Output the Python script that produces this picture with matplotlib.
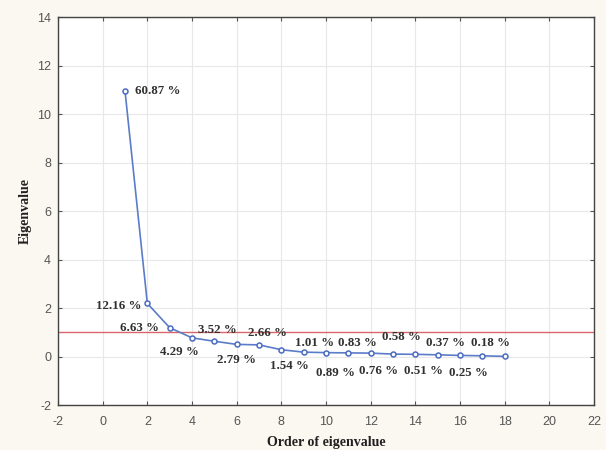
import numpy as np
from matplotlib import pyplot as plt

plt.rcParams['axes.unicode_minus'] = False

# scree plot data
order = list(range(1, 19))
eigenvalues = [10.96, 2.19, 1.19, 0.77, 0.63, 0.50, 0.48, 0.28, 0.18,
               0.16, 0.15, 0.14, 0.10, 0.09, 0.07, 0.045, 0.03, 0.005]
pct_labels = ["60.87 %", "12.16 %", "6.63 %", "4.29 %", "3.52 %", "2.79 %",
              "2.66 %", "1.54 %", "1.01 %", "0.89 %", "0.83 %", "0.76 %",
              "0.58 %", "0.51 %", "0.37 %", "0.25 %", "0.18 %"]
kaiser = 1.0

# label offsets (points) and alignment relative to each point
offsets = [(7, 0, 'left'), (-4, -2, 'right'), (-8, 0, 'right'),
           (-9, -10, 'center'), (2, 8, 'center'), (0, -11.5, 'center'),
           (6, 8.5, 'center'), (5.5, -11.5, 'center'), (8, 6.5, 'center'),
           (7, -14.5, 'center'), (6.5, 7, 'center'), (6, -13, 'center'),
           (6, 12, 'center'), (6, -12, 'center'), (6, 8.5, 'center'),
           (6, -13, 'center'), (6, 9, 'center')]

fig = plt.figure(figsize=(6.06, 4.5), dpi=100, facecolor='#fbf8f1')
ax = fig.add_axes([0.0957, 0.1, 0.8845, 0.862])
ax.set_facecolor('white')

ax.axhline(kaiser, color='#d9666a', lw=1.0, zorder=2)
ax.plot(order, eigenvalues, '-o', color='#5b7cc8', lw=1.2, ms=3.6,
        mfc='white', mec='#4a6cc0', mew=1.1, zorder=3)

for i, txt in enumerate(pct_labels):
    dx, dy, ha = offsets[i]
    ax.annotate(txt, (order[i], eigenvalues[i]), xytext=(dx, dy),
                textcoords='offset points', ha=ha, va='center',
                fontsize=9.3, fontweight='bold', family='Liberation Serif',
                color='#303030', zorder=4)

ax.set_xlim(-2, 22)
ax.set_ylim(-2, 14)
ax.set_xticks(np.arange(-2, 23, 2))
ax.set_yticks(np.arange(-2, 15, 2))
ax.grid(True, color='#e8e8e8', lw=0.8, zorder=0)
ax.tick_params(direction='in', length=3, top=True, right=True,
               labelsize=9, labelcolor='#555555', color='#555555')
ax.tick_params(axis='x', pad=8)
ax.tick_params(axis='y', pad=5)
for lab in ax.get_xticklabels() + ax.get_yticklabels():
    lab.set_family('Liberation Sans')
for s in ax.spines.values():
    s.set_color('#444444')
    s.set_linewidth(1.0)

ax.set_xlabel("Order of eigenvalue", fontsize=10, fontweight='bold',
              family='Liberation Serif', color='#202020', labelpad=6)
ax.set_ylabel("Eigenvalue", fontsize=10, fontweight='bold',
              family='Liberation Serif', color='#202020', labelpad=4)

fig.savefig("out.png", dpi=100, facecolor=fig.get_facecolor())
